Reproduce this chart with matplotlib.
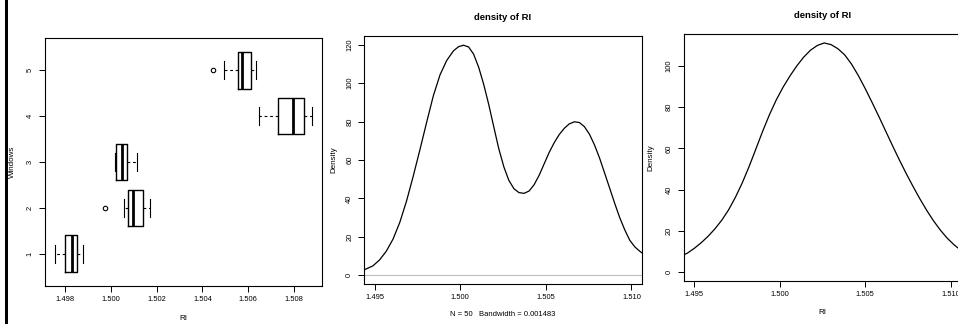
import matplotlib
matplotlib.use("Agg")
import matplotlib.pyplot as plt
from matplotlib.patches import Rectangle

plt.rcParams['font.family'] = ['Liberation Sans', 'DejaVu Sans']

# --- boxplot of RI by window type ---
windows = [1, 2, 3, 4, 5]
ri_whislo = [1.49758, 1.50058, 1.50020, 1.50648, 1.50495]
ri_q1 = [1.49800, 1.50077, 1.50025, 1.50729, 1.50556]
ri_med = [1.49832, 1.50095, 1.50048, 1.50797, 1.50574]
ri_q3 = [1.49852, 1.50141, 1.50071, 1.50844, 1.50613]
ri_whishi = [1.49879, 1.50170, 1.50115, 1.50877, 1.50633]
ri_outliers = [[], [1.49977], [], [], [1.50447]]

# --- kernel density estimate of RI (N = 50, bw = 0.001483) ---
kde_x = [1.49441, 1.49490, 1.49529, 1.49568, 1.49608, 1.49647, 1.49686, 1.49725,
         1.49765, 1.49804, 1.49843, 1.49882, 1.49921, 1.49961, 1.49990, 1.50019,
         1.50049, 1.50078, 1.50108, 1.50137, 1.50167, 1.50196, 1.50225, 1.50255,
         1.50284, 1.50314, 1.50343, 1.50373, 1.50402, 1.50431, 1.50461, 1.50490,
         1.50519, 1.50549, 1.50578, 1.50608, 1.50637, 1.50667, 1.50696, 1.50725,
         1.50755, 1.50784, 1.50814, 1.50843, 1.50873, 1.50902, 1.50931, 1.50961,
         1.50990, 1.51020, 1.51049, 1.51063]
kde_y = [2.8, 4.8, 7.9, 12.4, 18.8, 27.4, 38.4, 51.3,
         65.4, 79.6, 93.4, 104.3, 111.8, 116.9, 119.0, 119.8,
         118.9, 115.2, 108.3, 99.5, 88.8, 77.3, 66.0, 56.4,
         49.4, 45.0, 43.0, 42.6, 43.8, 47.0, 52.0, 57.9,
         63.8, 69.0, 73.2, 76.5, 78.8, 79.9, 79.5, 77.4,
         73.4, 67.9, 61.0, 53.3, 45.3, 37.5, 30.1, 23.6,
         18.2, 14.7, 12.4, 11.5]

# --- fitted normal density of RI ---
norm_x = [1.49435, 1.4946, 1.4950, 1.4954, 1.4958, 1.4962, 1.4966, 1.4970,
          1.4974, 1.4978, 1.4982, 1.4986, 1.4990, 1.4994, 1.4998, 1.5002,
          1.5006, 1.5010, 1.5014, 1.5018, 1.5022, 1.5026, 1.5030, 1.5034,
          1.5038, 1.5042, 1.5046, 1.5050, 1.5054, 1.5058, 1.5062, 1.5066,
          1.5070, 1.5074, 1.5078, 1.5082, 1.5086, 1.5090, 1.5094, 1.5098,
          1.5102, 1.5106]
norm_y = [8.1, 9.1, 11.4, 14.1, 17.2, 20.8, 25.0, 30.0,
          36.1, 43.1, 51.0, 59.6, 68.3, 76.4, 83.6, 89.8,
          95.2, 100.1, 104.3, 107.7, 110.0, 111.2, 110.4, 108.4,
          105.4, 100.9, 95.3, 89.0, 82.3, 75.4, 68.3, 61.2,
          54.3, 47.7, 41.4, 35.4, 29.8, 24.7, 20.2, 16.3,
          13.1, 10.4]

box_ticks = [1.498, 1.500, 1.502, 1.504, 1.506, 1.508]
dens_ticks = [1.495, 1.500, 1.505, 1.510]
kde_yticks = [0, 20, 40, 60, 80, 100, 120]
norm_yticks = [0, 20, 40, 60, 80, 100]

W, H = 958, 324
TICK_FS = 5.4
LABEL_FS = 5.8
SUB_FS = 5.5
TITLE_FS = 6.8


def rect(l, t, r, b):
    return [l / W, 1 - b / H, (r - l) / W, (b - t) / H]


def style_axes(ax):
    for sp in ax.spines.values():
        sp.set_linewidth(0.8)
        sp.set_color('black')
    ax.tick_params(direction='out', length=4, width=0.7, colors='black',
                   labelsize=TICK_FS, pad=3)


def ylabels_vertical(ax, ticks, labels):
    ax.set_yticks(ticks)
    ax.set_yticklabels(labels, rotation=90, va='center', ha='center')
    ax.tick_params(axis='y', pad=6.5)


def put_text(ax, s, xy, off, rotation=0, size=LABEL_FS, weight='normal'):
    ax.annotate(s, xy=xy, xycoords='axes fraction', xytext=off,
                textcoords='offset pixels', ha='center', va='center',
                rotation=rotation, fontsize=size, fontweight=weight,
                annotation_clip=False)


fig = plt.figure(figsize=(W / 100, H / 100), dpi=100)
fig.patch.set_facecolor('white')

# left edge bar
fig.add_artist(Rectangle((5 / W, 0), 3.3 / W, 1, transform=fig.transFigure,
                         facecolor='black', edgecolor='none'))

# ---------------- panel 1: boxplot ----------------
ax1 = fig.add_axes(rect(45, 38, 322, 286))
stats = []
for lo, q1, md, q3, hi, fl in zip(ri_whislo, ri_q1, ri_med, ri_q3, ri_whishi, ri_outliers):
    stats.append(dict(med=md, q1=q1, q3=q3, whislo=lo, whishi=hi, fliers=fl))

bkw = dict(positions=windows, widths=0.8, capwidths=0.4, showfliers=True,
           patch_artist=False, manage_ticks=False,
           boxprops=dict(color='black', linewidth=1.0),
           medianprops=dict(color='black', linewidth=2.0, solid_capstyle='butt'),
           whiskerprops=dict(color='black', linewidth=0.8, linestyle=(0, (2.5, 2.5))),
           capprops=dict(color='black', linewidth=0.8),
           flierprops=dict(marker='o', markerfacecolor='none', markeredgecolor='black',
                           markersize=3.2, markeredgewidth=0.8, linestyle='none'))
try:
    ax1.bxp(stats, orientation='horizontal', **bkw)
except TypeError:
    ax1.bxp(stats, vert=False, **bkw)

lo_all, hi_all = min(ri_whislo + [1.49977]), max(ri_whishi)
pad = 0.04 * (hi_all - lo_all)
ax1.set_xlim(lo_all - pad, hi_all + pad)
ax1.set_ylim(0.3, 5.7)
style_axes(ax1)
ax1.set_xticks(box_ticks)
ax1.set_xticklabels([f"{t:.3f}" for t in box_ticks])
ylabels_vertical(ax1, windows, [str(w) for w in windows])
put_text(ax1, "RI", (0.5, 0), (0, -33))
put_text(ax1, "Windows", (0, 0.5), (-33, 0), rotation=90)

# ---------------- panel 2: kernel density ----------------
ax2 = fig.add_axes(rect(364.3, 36, 641.7, 284.3))
ax2.axhline(0, color='#bebebe', linewidth=0.8, zorder=1)
ax2.plot(kde_x, kde_y, color='black', linewidth=0.9, zorder=2,
         solid_joinstyle='round')
ax2.set_xlim(1.4944, 1.5106)
ax2.set_ylim(-4.79, 124.6)
style_axes(ax2)
ax2.set_xticks(dens_ticks)
ax2.set_xticklabels([f"{t:.3f}" for t in dens_ticks])
ylabels_vertical(ax2, kde_yticks, [str(v) for v in kde_yticks])
put_text(ax2, "density of RI", (0.5, 1), (0, 19), size=TITLE_FS, weight='bold')
put_text(ax2, "N = 50   Bandwidth = 0.001483", (0.5, 0), (0, -30), size=SUB_FS)
put_text(ax2, "Density", (0, 0.5), (-30, 0), rotation=90)

# ---------------- panel 3: normal density ----------------
ax3 = fig.add_axes(rect(684, 33.7, 961, 281))
ax3.plot(norm_x, norm_y, color='black', linewidth=0.9, solid_joinstyle='round')
ax3.set_xlim(1.4944, 1.5106)
ax3.set_ylim(-4.45, 115.7)
style_axes(ax3)
ax3.set_xticks(dens_ticks)
ax3.set_xticklabels([f"{t:.3f}" for t in dens_ticks])
ylabels_vertical(ax3, norm_yticks, [str(v) for v in norm_yticks])
put_text(ax3, "density of RI", (0.5, 1), (0, 18), size=TITLE_FS, weight='bold')
put_text(ax3, "RI", (0.5, 0), (0, -31))
put_text(ax3, "Density", (0, 0.5), (-33, 0), rotation=90)

fig.savefig("out.png", dpi=100)
